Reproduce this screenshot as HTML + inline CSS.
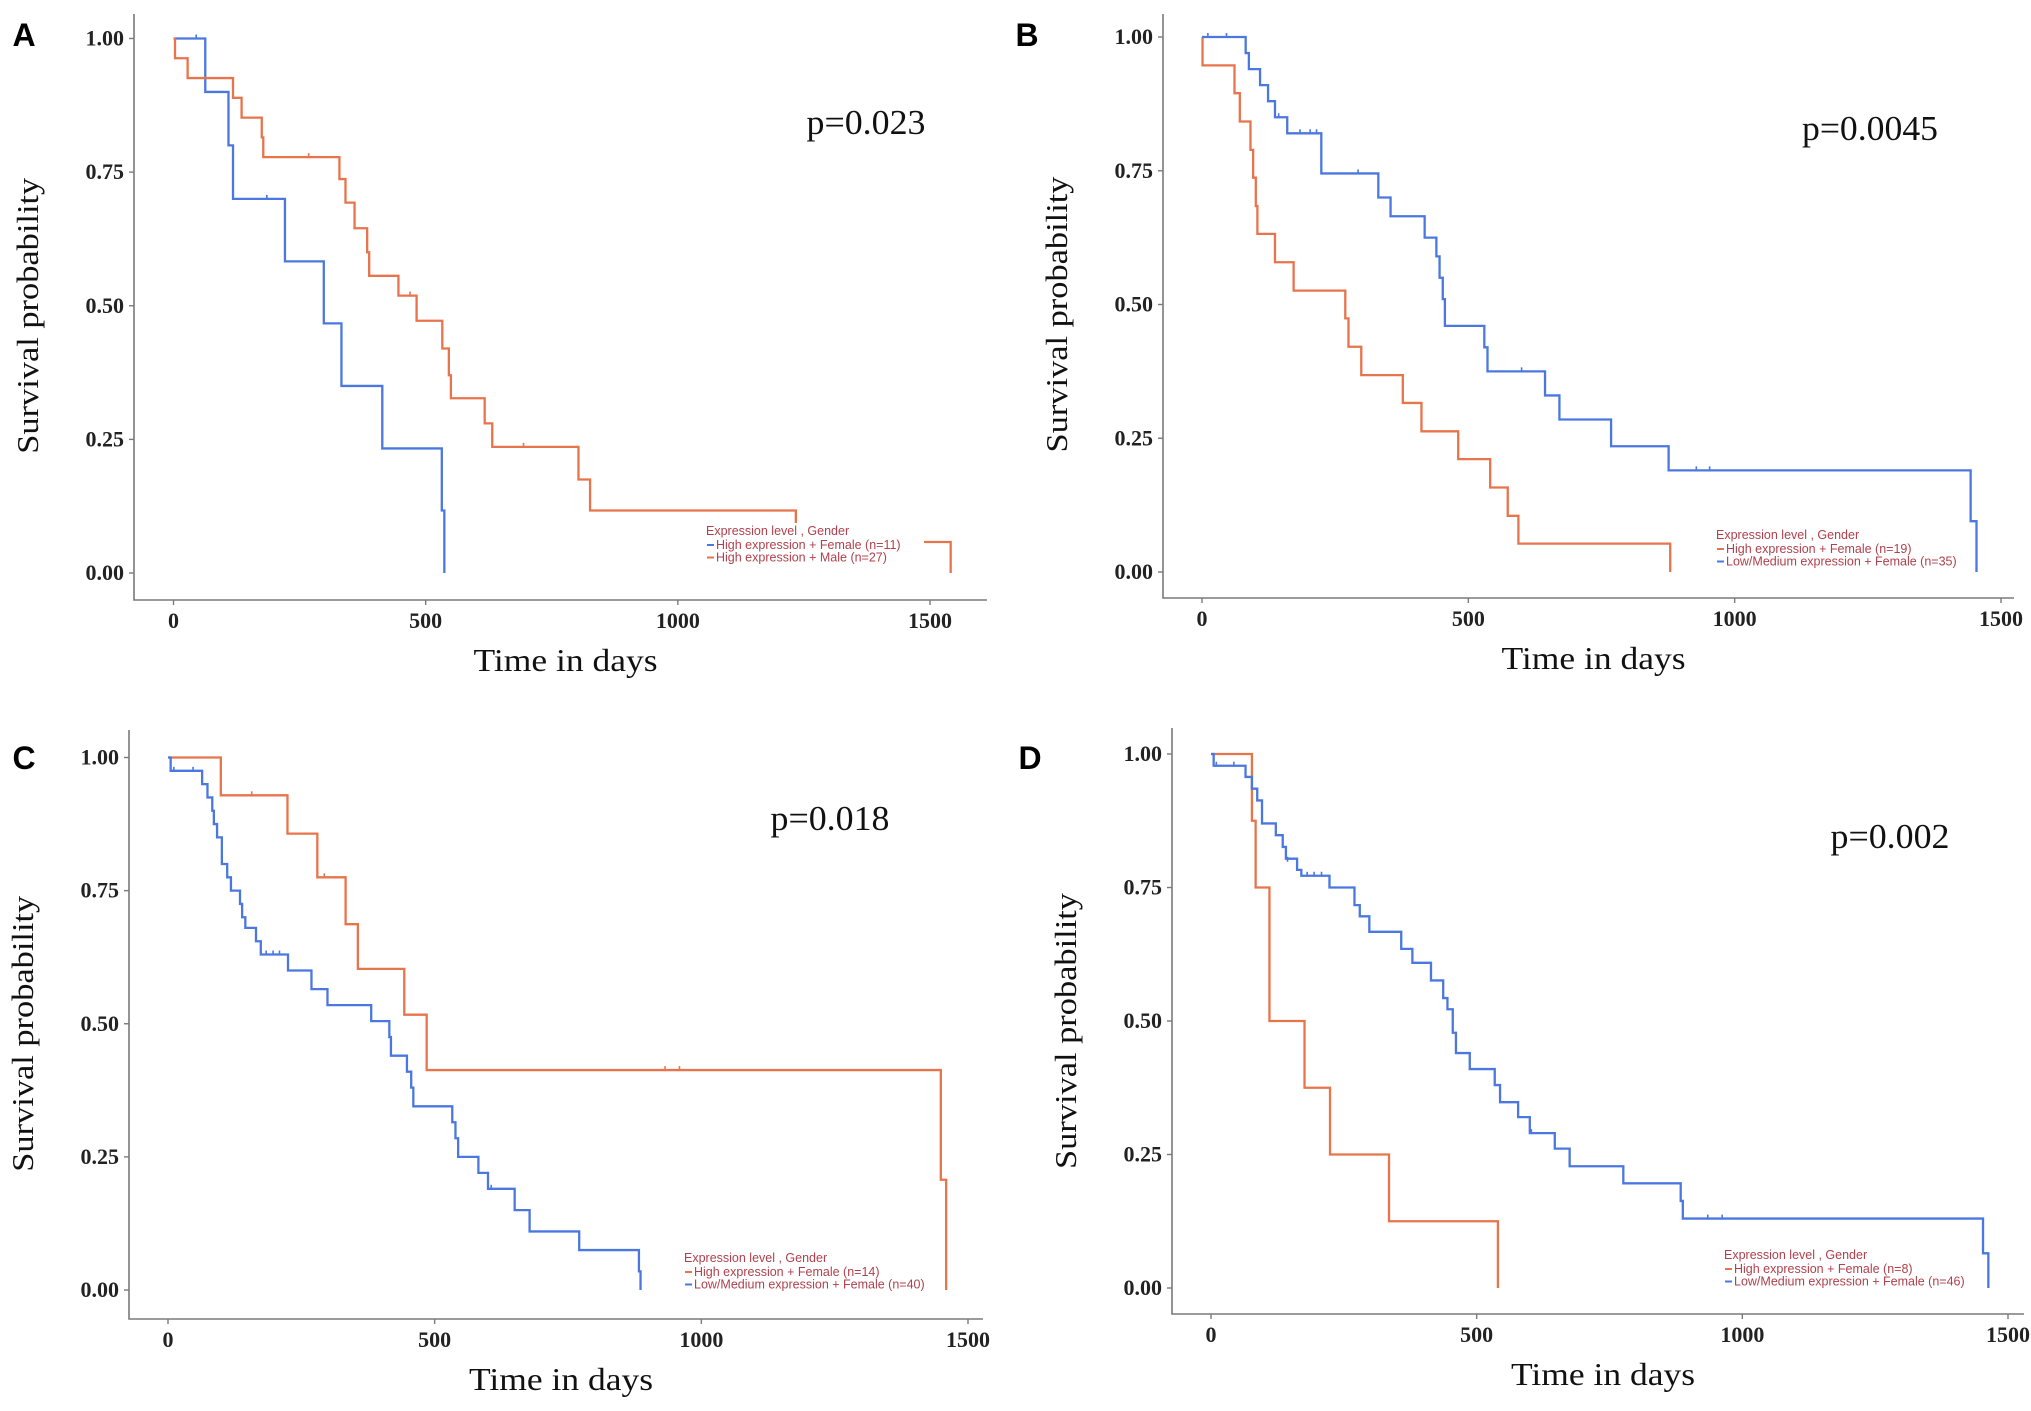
<!DOCTYPE html>
<html><head><meta charset="utf-8"><style>
html,body{margin:0;padding:0;background:#fff;}
svg{display:block;}
</style></head><body>
<svg id="fig" width="2031" height="1411" viewBox="0 0 2031 1411" xmlns="http://www.w3.org/2000/svg"></svg>
<script>
// ---- data (days, survival after step) ----
const xTicks = [0, 500, 1000, 1500];
const yTicks = [0, 0.25, 0.5, 0.75, 1.0];
const yTickLabels = ["0.00", "0.25", "0.50", "0.75", "1.00"];

const aBlueT = [63,109,118,221,298,333,414,532,537];
const aBlueS = [0.9,0.8,0.7,0.583,0.467,0.35,0.233,0.117,0];
const aBlueCT = [45,185];
const aBlueCS = [1.0,0.7];
const aOrT = [3,28,118,135,175,178,329,341,359,384,388,446,482,533,546,550,617,632,803,826,1234,1541];
const aOrS = [0.963,0.926,0.889,0.852,0.815,0.778,0.737,0.693,0.645,0.6,0.556,0.519,0.472,0.42,0.37,0.327,0.28,0.236,0.175,0.117,0.058,0];
const aOrCT = [268,469,694];
const aOrCS = [0.778,0.519,0.236];

const bOrT = [1,61,71,91,96,101,104,137,172,269,275,299,377,412,481,541,574,594,879];
const bOrS = [0.947,0.895,0.842,0.789,0.737,0.684,0.632,0.579,0.526,0.474,0.421,0.368,0.316,0.263,0.211,0.158,0.105,0.053,0];
const bOrCT = [];
const bOrCS = [];
const bBlueT = [82,88,109,124,137,160,224,331,354,418,440,446,452,456,530,536,644,671,768,876,1443,1454];
const bBlueS = [0.97,0.94,0.91,0.88,0.85,0.82,0.745,0.70,0.665,0.625,0.59,0.55,0.51,0.46,0.42,0.375,0.33,0.285,0.235,0.19,0.095,0];
const bBlueCT = [11,46,144,184,203,215,293,600,928,953];
const bBlueCS = [1,1,0.85,0.82,0.82,0.82,0.745,0.375,0.19,0.19];

const cOrT = [99,224,280,333,356,443,485,1449,1459];
const cOrS = [0.929,0.857,0.775,0.687,0.603,0.517,0.413,0.207,0];
const cOrCT = [157,293,932,959];
const cOrCS = [0.929,0.775,0.413,0.413];
const cBlueT = [5,64,74,83,86,92,101,111,118,135,139,145,165,174,225,269,299,381,415,418,448,456,460,533,539,544,582,600,650,678,771,883,886];
const cBlueS = [0.975,0.95,0.925,0.9,0.875,0.85,0.8,0.775,0.75,0.725,0.7,0.68,0.655,0.63,0.6,0.565,0.535,0.505,0.475,0.44,0.41,0.38,0.345,0.315,0.285,0.25,0.22,0.19,0.15,0.11,0.075,0.035,0];
const cBlueCT = [11,47,184,197,209,606];
const cBlueCS = [0.975,0.975,0.63,0.63,0.63,0.19];

const dOrT = [77,84,110,176,224,335,540];
const dOrS = [0.875,0.75,0.5,0.375,0.25,0.125,0];
const dOrCT = [];
const dOrCS = [];
const dBlueT = [5,65,77,87,96,122,135,141,162,170,223,270,280,298,358,379,414,437,445,455,461,487,534,544,578,600,647,675,776,884,888,1453,1463];
const dBlueS = [0.978,0.957,0.935,0.913,0.87,0.848,0.826,0.804,0.783,0.772,0.75,0.717,0.696,0.667,0.635,0.609,0.576,0.543,0.522,0.478,0.44,0.41,0.38,0.348,0.32,0.29,0.261,0.228,0.196,0.163,0.13,0.065,0];
const dBlueCT = [10,43,144,181,194,208,603,935,962];
const dBlueCS = [0.978,0.978,0.8,0.772,0.772,0.772,0.29,0.13,0.13];

const BLUE = "#4b78e0", ORANGE = "#e8744c", LEGC = "#b0404c";
const NS = "http://www.w3.org/2000/svg";
const svg = document.getElementById("fig");
function mk(tag, attrs, parent){ const e=document.createElementNS(NS,tag); for(const k in attrs) e.setAttribute(k,attrs[k]); (parent||svg).appendChild(e); return e; }

const panels = [
 {id:"a", letter:"A", lx:24, ly:34, axX:134, axTop:14, axY:600, axR:987, x0:173.5, x1500:930, y1:38.5, y0:573, p:"p=0.023", px:866, py:134, legX:706, legY:535,
  series:[{name:"high-female",t:aBlueT,s:aBlueS,ct:aBlueCT,cs:aBlueCS,c:BLUE,label:"High expression + Female (n=11)"},
          {name:"high-male",t:aOrT,s:aOrS,ct:aOrCT,cs:aOrCS,c:ORANGE,label:"High expression + Male (n=27)"}]},
 {id:"b", letter:"B", lx:1027, ly:34, axX:1163, axTop:14, axY:598, axR:2014, x0:1202, x1500:2001, y1:37, y0:572, p:"p=0.0045", px:1870, py:140, legX:1716, legY:539,
  series:[{name:"high-female",t:bOrT,s:bOrS,ct:bOrCT,cs:bOrCS,c:ORANGE,label:"High expression + Female (n=19)"},
          {name:"low-medium-female",t:bBlueT,s:bBlueS,ct:bBlueCT,cs:bBlueCS,c:BLUE,label:"Low/Medium expression + Female (n=35)"}]},
 {id:"c", letter:"C", lx:24, ly:757, axX:129, axTop:730, axY:1319, axR:983, x0:168, x1500:968, y1:757.5, y0:1290, p:"p=0.018", px:830, py:830, legX:684, legY:1262,
  series:[{name:"high-female",t:cOrT,s:cOrS,ct:cOrCT,cs:cOrCS,c:ORANGE,label:"High expression + Female (n=14)"},
          {name:"low-medium-female",t:cBlueT,s:cBlueS,ct:cBlueCT,cs:cBlueCS,c:BLUE,label:"Low/Medium expression + Female (n=40)"}]},
 {id:"d", letter:"D", lx:1030, ly:757, axX:1172, axTop:728, axY:1314, axR:2024, x0:1211, x1500:2008, y1:754, y0:1288, p:"p=0.002", px:1890, py:848, legX:1724, legY:1259,
  series:[{name:"high-female",t:dOrT,s:dOrS,ct:dOrCT,cs:dOrCS,c:ORANGE,label:"High expression + Female (n=8)"},
          {name:"low-medium-female",t:dBlueT,s:dBlueS,ct:dBlueCT,cs:dBlueCS,c:BLUE,label:"Low/Medium expression + Female (n=46)"}]}
];

panels.forEach(P=>{
  const g = mk("g",{});
  
  
  const X = d => P.x0 + d/1500*(P.x1500-P.x0);
  const Y = v => P.y0 + v*(P.y1-P.y0);

  const let_ = mk("text",{x:P.lx,y:P.ly+12,"font-family":"Liberation Sans, sans-serif","font-weight":"bold","font-size":32,"text-anchor":"middle",fill:"#000"},g);
  let_.textContent = P.letter;
  
  

  const ax = mk("path",{d:`M${P.axX},${P.axTop} V${P.axY} H${P.axR}`,stroke:"#7a7a7a","stroke-width":1.6,fill:"none"},g);
  
  

  yTicks.forEach((v,i)=>{
    const y = Y(v);
    mk("line",{x1:P.axX-5,x2:P.axX,y1:y,y2:y,stroke:"#7a7a7a","stroke-width":1.4},g);
    const t = mk("text",{x:P.axX-10,y:y+7,"font-family":"Liberation Serif, serif","font-weight":"bold","font-size":22,"text-anchor":"end",fill:"#222"},g);
    t.textContent = yTickLabels[i];
    
    
  });
  xTicks.forEach(d=>{
    const x = X(d);
    mk("line",{x1:x,x2:x,y1:P.axY,y2:P.axY+5,stroke:"#7a7a7a","stroke-width":1.4},g);
    const t = mk("text",{x:x,y:P.axY+28,"font-family":"Liberation Serif, serif","font-weight":"bold","font-size":22,"text-anchor":"middle",fill:"#222"},g);
    t.textContent = String(d);
    
    
  });

  const yl = mk("text",{x:0,y:0,transform:`translate(${P.axX-96},${(P.y0+P.y1)/2+10}) rotate(-90)`,"font-family":"Liberation Serif, serif","font-size":31,"text-anchor":"middle",fill:"#111",textLength:276,lengthAdjust:"spacingAndGlyphs"},g);
  yl.textContent = "Survival probability";
  
  

  const xl = mk("text",{x:(P.axX+P.axR)/2+5,y:P.axY+71,"font-family":"Liberation Serif, serif","font-size":32,"text-anchor":"middle",fill:"#111",textLength:184,lengthAdjust:"spacingAndGlyphs"},g);
  xl.textContent = "Time in days";
  
  

  P.series.forEach(S=>{
    let d = `M${X(0)},${Y(1)}`;
    S.t.forEach((t,i)=>{ d += ` H${X(t)} V${Y(S.s[i])}`; });
    const path = mk("path",{d:d,stroke:S.c,"stroke-width":2.3,fill:"none","stroke-linejoin":"miter"},g);
    
    
    S.ct.forEach((t,i)=>{
      const m = mk("line",{x1:X(t),x2:X(t),y1:Y(S.cs[i])-4,y2:Y(S.cs[i])+1,stroke:S.c,"stroke-width":1.6},g);
      
      
    });
  });

  const pt = mk("text",{x:P.px,y:P.py,"font-family":"Liberation Serif, serif","font-size":35,"text-anchor":"middle",fill:"#111",textLength:(P.p.length*17),lengthAdjust:"spacingAndGlyphs"},g);
  pt.textContent = P.p;
  
  

  const leg = mk("g",{},g);
  
  
  mk("rect",{x:P.legX-4,y:P.legY-12,width:222 + (P.series[1].label.length>32?38:0),height:44,fill:"#fff"},leg);
  const lt = mk("text",{x:P.legX,y:P.legY,"font-family":"Liberation Sans, sans-serif","font-size":12.5,fill:LEGC},leg);
  lt.textContent = "Expression level , Gender";
  
  
  P.series.forEach((S,i)=>{
    const y = P.legY + 14 + i*12.5;
    mk("line",{x1:P.legX+1,x2:P.legX+8,y1:y-4,y2:y-4,stroke:S.c,"stroke-width":2},leg);
    const e = mk("text",{x:P.legX+10,y:y,"font-family":"Liberation Sans, sans-serif","font-size":12.5,fill:LEGC},leg);
    e.textContent = S.label;
    
    
  });
});
</script>
</body></html>
